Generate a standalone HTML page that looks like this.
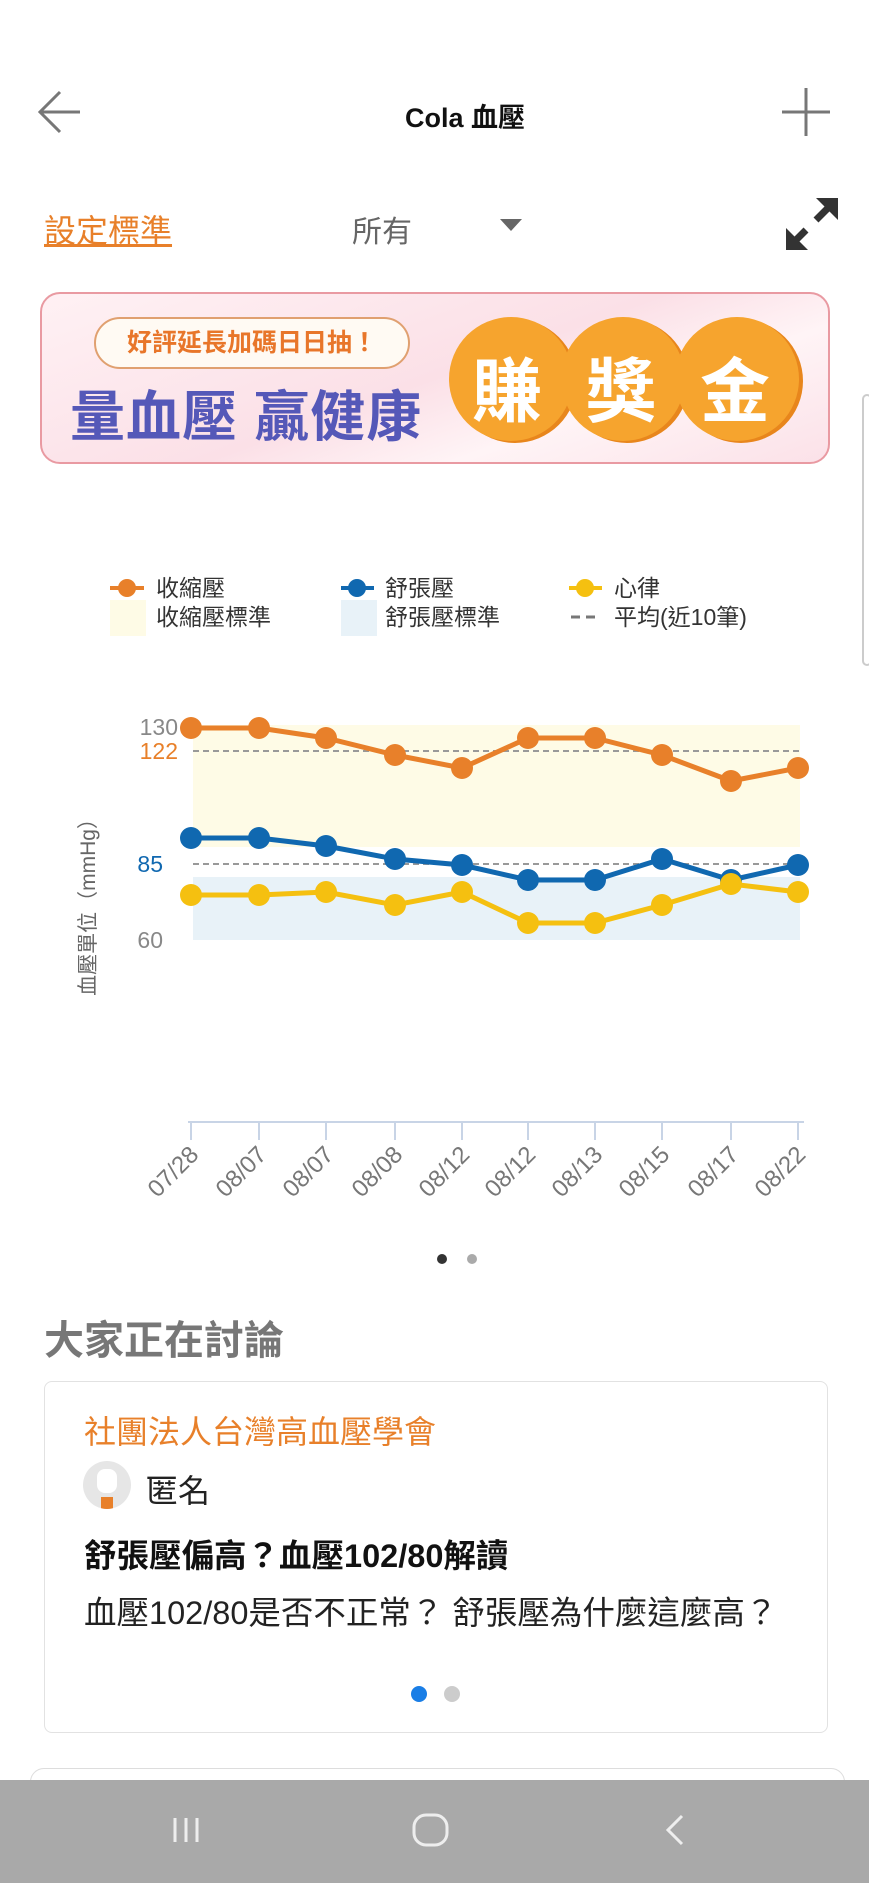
<!DOCTYPE html>
<html><head><meta charset="utf-8"><style>
*{margin:0;padding:0;box-sizing:border-box}
body{width:869px;height:1883px;background:#fff;position:relative;overflow:hidden;font-family:"Liberation Sans","Noto Sans CJK TC",sans-serif}
.a{position:absolute;white-space:nowrap}
</style></head><body>
<!-- header -->
<svg class="a" style="left:0;top:0" width="869" height="280">
<path d="M80 112H42M60 92L40 112L60 132" stroke="#777" stroke-width="3" fill="none"/>
<path d="M806 88V136M782 112H830" stroke="#777" stroke-width="3"/>
<path d="M500 219L522 219L511 231Z" fill="#666"/>
<path d="M790 246L806 230M816 220L834 202" stroke="#333" stroke-width="7"/>
<path d="M786 250L786 228L808 250Z M838 198L838 220L816 198Z" fill="#333"/>
</svg>
<div class="a" style="left:0;width:930px;text-align:center;top:96px;font-size:27px;font-weight:bold;color:#111">Cola 血壓</div>
<div class="a" style="left:44px;top:206px;font-size:32px;color:#e8802a;text-decoration:underline">設定標準</div>
<div class="a" style="left:352px;top:207px;font-size:30px;color:#666">所有</div>
<div class="a" style="left:862px;top:394px;width:10px;height:272px;border:2px solid #ccc;border-radius:8px"></div>
<!-- banner -->
<div class="a" style="left:40px;top:292px;width:790px;height:172px;border:2px solid #e99aa2;border-radius:20px;background:linear-gradient(160deg,#fff1f4 0%,#fbe0e7 50%,#fff4f6 70%,#fbe1e8 100%);overflow:hidden">
<div class="a" style="left:52px;top:23px;width:316px;height:52px;border:2px solid #e0a070;border-radius:26px;background:#fffaf3;text-align:center;line-height:48px;font-size:25px;font-weight:bold;color:#e8762a">好評延長加碼日日抽！</div>
<div class="a" style="left:28px;top:78px;font-size:55px;font-weight:bold;color:#5558b8;letter-spacing:1px">量血壓 贏健康</div>
<div class="a" style="left:407px;top:23px;width:124px;height:124px;border-radius:50%;background:#f6a42e;box-shadow:4px 2px 0 #e8861c"></div>
<div class="a" style="left:519px;top:23px;width:124px;height:124px;border-radius:50%;background:#f6a42e;box-shadow:4px 2px 0 #e8861c"></div>
<div class="a" style="left:633px;top:23px;width:124px;height:124px;border-radius:50%;background:#f6a42e;box-shadow:4px 2px 0 #e8861c"></div>
<div class="a" style="left:430px;top:42px;font-size:70px;font-weight:bold;color:#fff;letter-spacing:44px">賺獎金</div>
</div>
<!-- legend -->
<svg class="a" style="left:0;top:560px" width="869" height="90">
<line x1="110" y1="28" x2="144" y2="28" stroke="#e8802a" stroke-width="4"/><circle cx="127" cy="28" r="9" fill="#e8802a"/>
<line x1="341" y1="28" x2="374" y2="28" stroke="#1068b0" stroke-width="4"/><circle cx="357" cy="28" r="9" fill="#1068b0"/>
<line x1="569" y1="28" x2="602" y2="28" stroke="#f5c010" stroke-width="4"/><circle cx="585" cy="28" r="9" fill="#f5c010"/>
<rect x="110" y="40" width="36" height="36" fill="#fefbe6"/>
<rect x="341" y="40" width="36" height="36" fill="#e8f2f8"/>
<line x1="571" y1="57" x2="600" y2="57" stroke="#777" stroke-width="3" stroke-dasharray="9,6"/>
</svg>
<div class="a" style="left:156px;top:574px;font-size:23px;color:#333;line-height:29px">收縮壓<br>收縮壓標準</div>
<div class="a" style="left:385px;top:574px;font-size:23px;color:#333;line-height:29px">舒張壓<br>舒張壓標準</div>
<div class="a" style="left:614px;top:574px;font-size:23px;color:#333;line-height:29px">心律<br>平均(近10筆)</div>
<!-- chart -->
<svg class="a" style="left:0;top:0" width="869" height="1300" font-family="Liberation Sans, Noto Sans CJK TC, sans-serif">
<rect x="193" y="725" width="607" height="122" fill="#fefbe6"/>
<rect x="193" y="877" width="607" height="63" fill="#e8f2f8"/>
<line x1="193" y1="751" x2="800" y2="751" stroke="#999" stroke-width="2" stroke-dasharray="6,4"/>
<line x1="193" y1="864" x2="800" y2="864" stroke="#999" stroke-width="2" stroke-dasharray="6,4"/>
<text x="178" y="729" text-anchor="end" font-size="23" fill="#888" dominant-baseline="middle">130</text>
<text x="178" y="753" text-anchor="end" font-size="23" fill="#e8802a" dominant-baseline="middle">122</text>
<text x="163" y="866" text-anchor="end" font-size="23" fill="#1068b0" dominant-baseline="middle">85</text>
<text x="163" y="942" text-anchor="end" font-size="23" fill="#888" dominant-baseline="middle">60</text>
<polyline points="191,728 259,728 326,738 395,755 462,768 528,738 595,738 662,755 731,781 798,768" fill="none" stroke="#e8802a" stroke-width="5"/>
<g fill="#e8802a"><circle cx="191" cy="728" r="11"/><circle cx="259" cy="728" r="11"/><circle cx="326" cy="738" r="11"/><circle cx="395" cy="755" r="11"/><circle cx="462" cy="768" r="11"/><circle cx="528" cy="738" r="11"/><circle cx="595" cy="738" r="11"/><circle cx="662" cy="755" r="11"/><circle cx="731" cy="781" r="11"/><circle cx="798" cy="768" r="11"/></g>
<polyline points="191,838 259,838 326,846 395,859 462,865 528,880 595,880 662,859 731,880 798,865" fill="none" stroke="#1068b0" stroke-width="5"/>
<g fill="#1068b0"><circle cx="191" cy="838" r="11"/><circle cx="259" cy="838" r="11"/><circle cx="326" cy="846" r="11"/><circle cx="395" cy="859" r="11"/><circle cx="462" cy="865" r="11"/><circle cx="528" cy="880" r="11"/><circle cx="595" cy="880" r="11"/><circle cx="662" cy="859" r="11"/><circle cx="731" cy="880" r="11"/><circle cx="798" cy="865" r="11"/></g>
<polyline points="191,895 259,895 326,892 395,905 462,892 528,923 595,923 662,905 731,884 798,892" fill="none" stroke="#f5c010" stroke-width="5"/>
<g fill="#f5c010"><circle cx="191" cy="895" r="11"/><circle cx="259" cy="895" r="11"/><circle cx="326" cy="892" r="11"/><circle cx="395" cy="905" r="11"/><circle cx="462" cy="892" r="11"/><circle cx="528" cy="923" r="11"/><circle cx="595" cy="923" r="11"/><circle cx="662" cy="905" r="11"/><circle cx="731" cy="884" r="11"/><circle cx="798" cy="892" r="11"/></g>
<text transform="translate(95,902) rotate(-90)" text-anchor="middle" font-size="21" fill="#666">血壓單位（mmHg）</text>
<line x1="188" y1="1122" x2="804" y2="1122" stroke="#c8d4e6" stroke-width="2"/>
<g stroke="#c8d4e6" stroke-width="2">
<line x1="191" y1="1122" x2="191" y2="1140"/><line x1="259" y1="1122" x2="259" y2="1140"/><line x1="326" y1="1122" x2="326" y2="1140"/><line x1="395" y1="1122" x2="395" y2="1140"/><line x1="462" y1="1122" x2="462" y2="1140"/><line x1="528" y1="1122" x2="528" y2="1140"/><line x1="595" y1="1122" x2="595" y2="1140"/><line x1="662" y1="1122" x2="662" y2="1140"/><line x1="731" y1="1122" x2="731" y2="1140"/><line x1="798" y1="1122" x2="798" y2="1140"/></g>
<g font-size="24" fill="#777" text-anchor="end">
<text transform="translate(200,1156) rotate(-45)">07/28</text><text transform="translate(268,1156) rotate(-45)">08/07</text><text transform="translate(335,1156) rotate(-45)">08/07</text><text transform="translate(404,1156) rotate(-45)">08/08</text><text transform="translate(471,1156) rotate(-45)">08/12</text><text transform="translate(537,1156) rotate(-45)">08/12</text><text transform="translate(604,1156) rotate(-45)">08/13</text><text transform="translate(671,1156) rotate(-45)">08/15</text><text transform="translate(740,1156) rotate(-45)">08/17</text><text transform="translate(807,1156) rotate(-45)">08/22</text></g>
<circle cx="442" cy="1259" r="5" fill="#333"/><circle cx="472" cy="1259" r="5" fill="#aaa"/>
</svg>
<!-- discussion -->
<div class="a" style="left:44px;top:1308px;font-size:40px;font-weight:bold;color:#777">大家正在討論</div>
<div class="a" style="left:44px;top:1381px;width:784px;height:352px;border:1px solid #e2e2e2;border-radius:8px"></div>
<div class="a" style="left:84px;top:1407px;font-size:32px;color:#e8802a">社團法人台灣高血壓學會</div>
<div class="a" style="left:83px;top:1461px;width:48px;height:48px;border-radius:50%;background:#e6e6e6;overflow:hidden"><div style="position:absolute;left:14px;top:8px;width:20px;height:24px;background:#fff;border-radius:8px"></div><div style="position:absolute;left:18px;top:36px;width:12px;height:12px;background:#e8802a"></div></div>
<div class="a" style="left:146px;top:1466px;font-size:32px;color:#222">匿名</div>
<div class="a" style="left:84px;top:1530px;font-size:32.5px;font-weight:bold;color:#111">舒張壓偏高？血壓102/80解讀</div>
<div class="a" style="left:84px;top:1587px;font-size:32.5px;color:#222">血壓102/80是否不正常？ 舒張壓為什麼這麼高？</div>
<div class="a" style="left:411px;top:1686px;width:16px;height:16px;border-radius:50%;background:#1a7ee6"></div>
<div class="a" style="left:444px;top:1686px;width:16px;height:16px;border-radius:50%;background:#ccc"></div>
<div class="a" style="left:30px;top:1768px;width:815px;height:40px;border:1px solid #ddd;border-radius:14px"></div>
<!-- nav -->
<div class="a" style="left:0;top:1780px;width:869px;height:103px;background:#a9a9a9"></div>
<svg class="a" style="left:0;top:1780px" width="869" height="103">
<g stroke="#eee" stroke-width="3" fill="none">
<path d="M175 38V62M186 38V62M197 38V62"/>
<rect x="414" y="35" width="33" height="30" rx="12"/>
<path d="M682 36L668 50L682 64"/></g>
</svg>
</body></html>
